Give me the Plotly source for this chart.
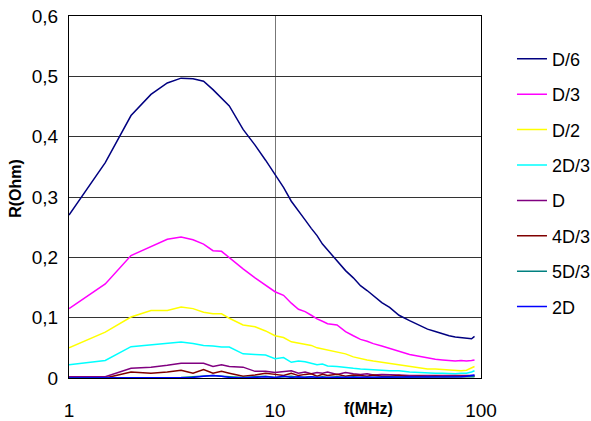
import plotly.graph_objects as go

freq = [1, 1.5, 2, 2.5, 3, 3.5, 4, 4.5, 5, 5.5, 6, 7, 8, 9, 10, 11, 12, 13, 14, 15, 16, 17, 18,
        20, 22, 24, 26, 28, 30, 33, 36, 40, 45, 50, 55, 60, 65, 70, 75, 80, 85, 90, 93]

r_d6 = [0.270, 0.357, 0.435, 0.470, 0.489, 0.497, 0.496, 0.492, 0.478, 0.464, 0.451, 0.412, 0.386,
        0.361, 0.337, 0.316, 0.293, 0.276, 0.262, 0.248, 0.236, 0.222, 0.212, 0.193, 0.178, 0.166,
        0.153, 0.145, 0.136, 0.125, 0.117, 0.104, 0.095, 0.087, 0.081, 0.077, 0.073, 0.070, 0.068,
        0.067, 0.066, 0.065, 0.069]
r_d3 = [0.115, 0.156, 0.203, 0.218, 0.230, 0.2335, 0.229, 0.222, 0.211, 0.210, 0.199, 0.181, 0.166,
        0.154, 0.143, 0.137, 0.124, 0.114, 0.110, 0.104, 0.098, 0.094, 0.090, 0.088, 0.077, 0.070,
        0.064, 0.061, 0.057, 0.053, 0.049, 0.045, 0.039, 0.036, 0.033, 0.031, 0.030, 0.029, 0.028,
        0.029, 0.028, 0.029, 0.030]
r_d2 = [0.050, 0.076, 0.101, 0.112, 0.112, 0.1175, 0.115, 0.109, 0.1065, 0.1065, 0.099, 0.088, 0.085,
        0.078, 0.070, 0.067, 0.060, 0.058, 0.056, 0.054, 0.050, 0.048, 0.046, 0.043, 0.040, 0.035,
        0.033, 0.030, 0.028, 0.026, 0.024, 0.022, 0.019, 0.017, 0.015, 0.015, 0.014, 0.013, 0.013,
        0.012, 0.013, 0.016, 0.019]
r_2d3 = [0.022, 0.029, 0.052, 0.055, 0.057, 0.0596, 0.057, 0.054, 0.053, 0.0513, 0.0513, 0.040, 0.039,
         0.038, 0.032, 0.034, 0.026, 0.028, 0.027, 0.025, 0.022, 0.023, 0.020, 0.019, 0.017, 0.016,
         0.015, 0.014, 0.014, 0.013, 0.012, 0.012, 0.010, 0.009, 0.008, 0.008, 0.008, 0.007, 0.007,
         0.008, 0.008, 0.010, 0.012]
r_d = [0.002, 0.002, 0.016, 0.018, 0.021, 0.0245, 0.0245, 0.0245, 0.019, 0.022, 0.019, 0.018, 0.011,
       0.011, 0.009, 0.011, 0.012, 0.008, 0.010, 0.007, 0.009, 0.008, 0.010, 0.006, 0.009, 0.007,
       0.006, 0.007, 0.005, 0.006, 0.005, 0.005, 0.004, 0.004, 0.003, 0.004, 0.003, 0.003, 0.003,
       0.003, 0.003, 0.004, 0.004]
r_4d3 = [0.0, 0.0, 0.010, 0.008, 0.010, 0.013, 0.008, 0.014, 0.008, 0.011, 0.008, 0.003, 0.005,
         0.008, 0.006, 0.004, 0.008, 0.004, 0.006, 0.007, 0.003, 0.006, 0.004, 0.006, 0.003, 0.005,
         0.004, 0.003, 0.005, 0.003, 0.003, 0.004, 0.002, 0.003, 0.002, 0.003, 0.002, 0.002, 0.003,
         0.002, 0.002, 0.003, 0.003]
r_5d3 = [0.0, 0.0, 0.0, 0.0, 0.0, 0.001, 0.002, 0.003, 0.004, 0.003, 0.002, 0.001, 0.002,
         0.003, 0.001, 0.002, 0.003, 0.001, 0.002, 0.002, 0.001, 0.002, 0.001, 0.002, 0.001, 0.002,
         0.001, 0.001, 0.002, 0.001, 0.001, 0.002, 0.001, 0.001, 0.001, 0.002, 0.001, 0.001, 0.001,
         0.001, 0.002, 0.002, 0.002]
r_2d = [0.0, 0.0, 0.0, 0.0, 0.0, 0.0, 0.001, 0.003, 0.004, 0.003, 0.001, 0.000, 0.001,
        0.002, 0.001, 0.003, 0.001, 0.002, 0.001, 0.002, 0.001, 0.001, 0.002, 0.001, 0.002, 0.001,
        0.001, 0.002, 0.001, 0.002, 0.001, 0.001, 0.002, 0.001, 0.002, 0.001, 0.002, 0.002, 0.001,
        0.002, 0.003, 0.004, 0.005]

names = ["D/6", "D/3", "D/2", "2D/3", "D", "4D/3", "5D/3", "2D"]
series = [r_d6, r_d3, r_d2, r_2d3, r_d, r_4d3, r_5d3, r_2d]
colors = ["#000080", "#FF00FF", "#FFFF00", "#00FFFF", "#800080", "#800000", "#008080", "#0000FF"]

y_ticks = [0, 0.1, 0.2, 0.3, 0.4, 0.5, 0.6]
y_ticktext = ["0", "0,1", "0,2", "0,3", "0,4", "0,5", "0,6"]
x_ticks = [1, 10, 100]
x_ticktext = ["1", "10", "100"]

fig = go.Figure()
for n, s, c in zip(names, series, colors):
    fig.add_trace(go.Scatter(x=freq, y=s, name=n, mode="lines", legendgroup=n,
                             line=dict(color=c, width=1.5)))

font = "Liberation Sans, Arial, sans-serif"
fig.update_layout(
    width=591, height=421,
    margin=dict(l=69, r=110, t=16, b=43),
    paper_bgcolor="white", plot_bgcolor="white",
    font=dict(family=font, color="black", size=19),
    showlegend=True,
    legend=dict(x=0.8663, y=0.9036, xref="container", yref="container",
                xanchor="left", yanchor="top", maxheight=390,
                font=dict(size=18, family=font), tracegroupgap=9,
                bgcolor="rgba(0,0,0,0)", borderwidth=0),
    xaxis=dict(type="log", range=[0, 2], tickvals=x_ticks, ticktext=x_ticktext,
               showgrid=True, gridcolor="#777777", gridwidth=1,
               showline=True, linecolor="black", linewidth=1, mirror=True,
               ticks="", ticklabelstandoff=15, zeroline=False, automargin=False),
    yaxis=dict(range=[0, 0.6], tickvals=y_ticks, ticktext=y_ticktext,
               showgrid=True, gridcolor="#333333", gridwidth=1,
               showline=True, linecolor="black", linewidth=1, mirror=True,
               ticks="", ticklabelstandoff=6, zeroline=False, automargin=False),
    annotations=[
        dict(text="<b>f(MHz)</b>", x=0.726, y=-0.083, xref="paper", yref="paper",
             xanchor="center", yanchor="middle",
             showarrow=False, font=dict(size=16, family=font)),
        dict(text="<b>R(Ohm)</b>", x=-0.129, y=0.525, xref="paper", yref="paper",
             xanchor="center", yanchor="middle",
             showarrow=False, textangle=-90, font=dict(size=16, family=font)),
    ],
)

fig.write_html("out.html")
